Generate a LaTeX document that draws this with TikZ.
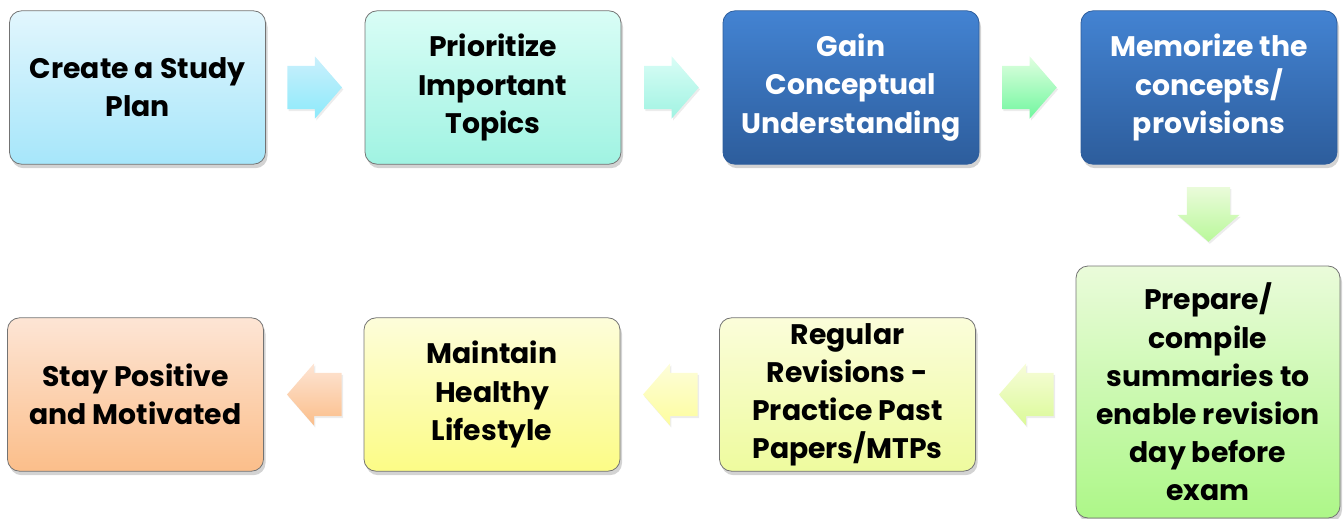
\documentclass[tikz,border=0pt]{standalone}
\usepackage{fontspec}
\setmainfont{Poppins}
\usetikzlibrary{shapes.arrows,shadows}
\definecolor{blueA}{HTML}{E2F6FD}\definecolor{blueB}{HTML}{A6E6FA}
\definecolor{mintA}{HTML}{D9FDF6}\definecolor{mintB}{HTML}{A0F3E2}
\definecolor{deepA}{HTML}{4383D2}\definecolor{deepB}{HTML}{2D5D9C}
\definecolor{greenA}{HTML}{EAFBDA}\definecolor{greenB}{HTML}{ADF788}
\definecolor{limeA}{HTML}{FBFDDA}\definecolor{limeB}{HTML}{EEFB9E}
\definecolor{yellA}{HTML}{FDFDDA}\definecolor{yellB}{HTML}{FCFC86}
\definecolor{peachA}{HTML}{FDE5D5}\definecolor{peachB}{HTML}{FBBE8A}
\begin{document}
\begin{tikzpicture}[x=0.75pt,y=-0.75pt,
  box/.style={draw=black!55,line width=0.6pt,rounded corners=9pt,
    minimum width=192pt,minimum height=115pt,align=center,inner sep=2pt,
    font=\fontsize{21.2}{28.6}\selectfont\bfseries,
    drop shadow={shadow xshift=1.5pt,shadow yshift=-3pt,opacity=0.35}},
  blk/.style={single arrow,single arrow head extend=7.1pt,single arrow tip angle=98,
    single arrow head indent=0pt,inner xsep=0pt,inner ysep=16pt,minimum height=41pt,
    drop shadow={shadow xshift=1pt,shadow yshift=-1.5pt,opacity=0.15}},
  rblk/.style={blk,xshift=-7.5pt},
  lblk/.style={blk,shape border rotate=180,xshift=7.5pt},
  dblk/.style={blk,shape border rotate=270,inner xsep=16pt,inner ysep=0pt,yshift=7.5pt}]
\useasboundingbox (0,0) rectangle (1343,518);
% top row
\node[box,top color=blueA,bottom color=blueB](plan) at (137.5,87.5) {Create a Study\\Plan};
\node[box,top color=mintA,bottom color=mintB](topics) at (493,87.5) {Prioritize\\Important\\Topics};
\node[box,top color=deepA,bottom color=deepB,text=white,draw=deepB](concept) at (851,87.5) {Gain\\Conceptual\\Understanding};
\node[box,top color=deepA,bottom color=deepB,text=white,draw=deepB](memo) at (1209,87.5) {Memorize the\\concepts/\\provisions};
% right column
\node[box,top color=greenA,bottom color=greenB,minimum width=198pt,minimum height=189pt](summ) at (1208,392) {Prepare/\\compile\\summaries to\\enable revision\\day before\\exam};
% bottom row
\node[box,top color=limeA,bottom color=limeB](revise) at (847.5,394.5) {Regular\\Revisions -\\Practice Past\\Papers/MTPs};
\node[box,top color=yellA,bottom color=yellB](health) at (492,394.5) {Maintain\\Healthy\\Lifestyle};
\node[box,top color=peachA,bottom color=peachB](positive) at (135.5,394.5) {Stay Positive\\and Motivated};
%
\path(plan.east) -- (topics.west) node[pos=0.5,rblk,top color=blueA!60!blueB,bottom color=blueB!85!cyan]{};
\path(topics.east) -- (concept.west) node[pos=0.5,rblk,top color=mintA,bottom color=mintB]{};
\path(concept.east) -- (memo.west) node[pos=0.5,rblk,top color=green!12,bottom color=green!30!mintB]{};
\path(memo.south) -- (summ.north) node[pos=0.5,dblk,top color=greenA,bottom color=greenB!85]{};
\path(revise.east) -- (revise.east -| summ.west) node[pos=0.5,lblk,top color=limeA!80!greenA,bottom color=limeB!70!greenB]{};
\path(health.east) -- (revise.west) node[pos=0.5,lblk,top color=yellA,bottom color=yellB!80]{};
\path(positive.east) -- (health.west) node[pos=0.5,lblk,top color=peachA,bottom color=peachB]{};
\end{tikzpicture}
\end{document}
